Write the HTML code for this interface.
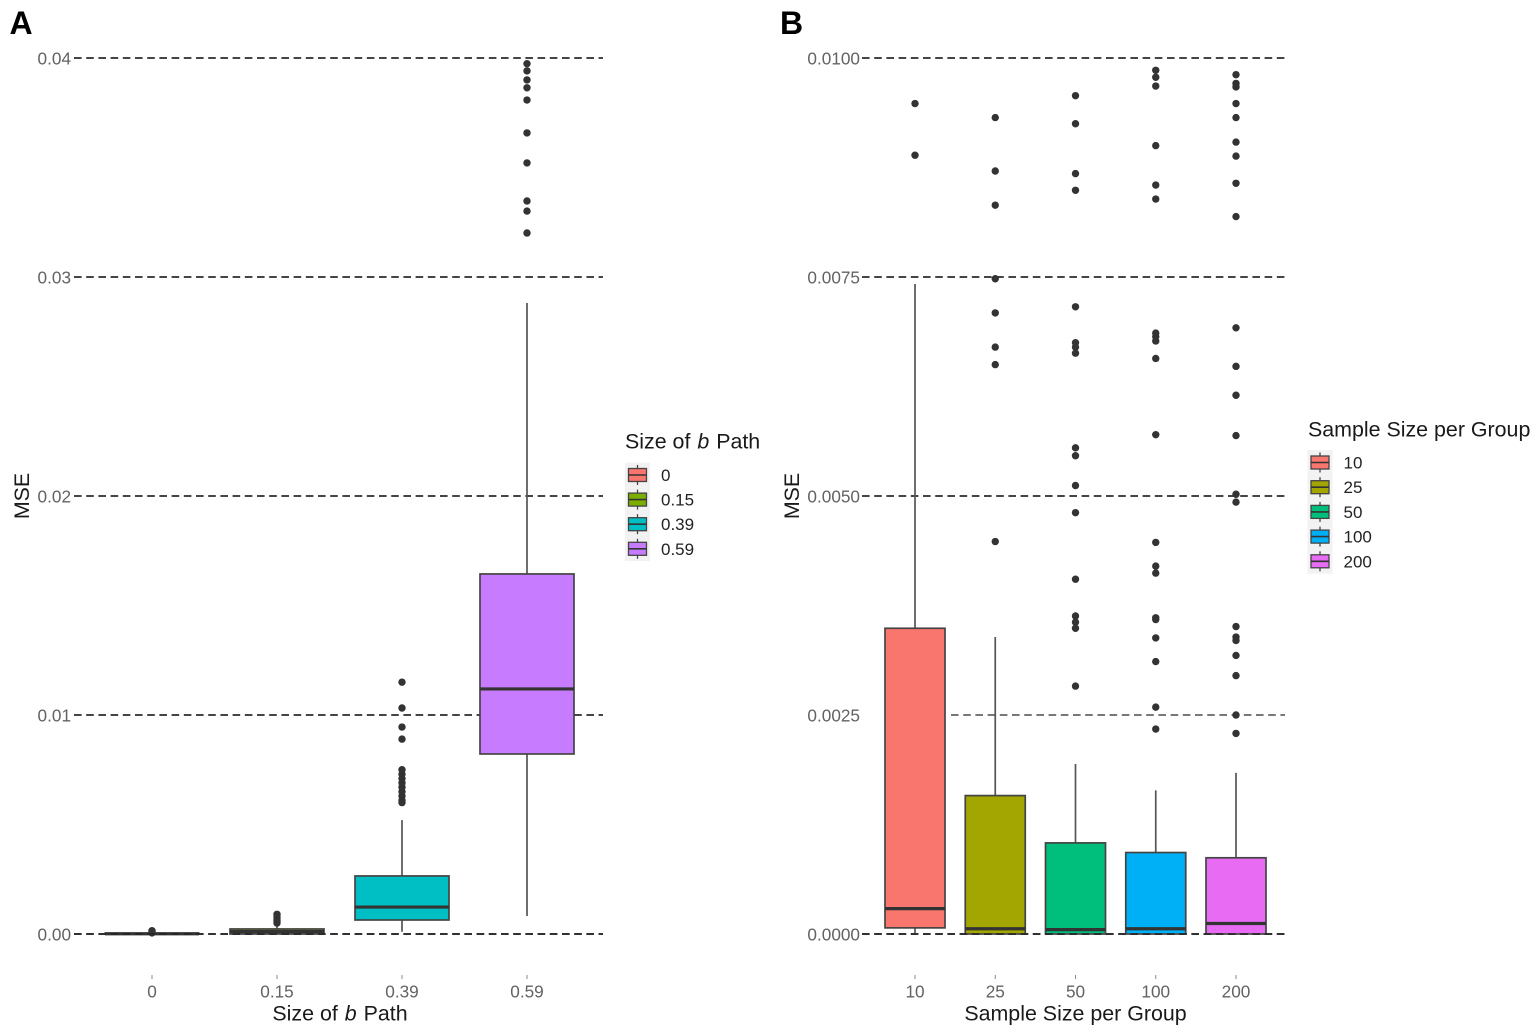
<!DOCTYPE html>
<html lang="en">
<head>
<meta charset="utf-8">
<title>MSE by size of b path and sample size per group</title>
<style>
html,body{margin:0;padding:0;background:#fff;}
body{width:1536px;height:1036px;overflow:hidden;}
svg{display:block;font-family:"Liberation Sans",sans-serif;}
</style>
</head>
<body>
<svg id="chart" xmlns="http://www.w3.org/2000/svg" width="1536" height="1036" viewBox="0 0 1536 1036"></svg>
<script>
// Panel A data
const aCategories = ['0', '0.15', '0.39', '0.59'];
const aColors = ['#F8766D', '#7CAE00', '#00BFC4', '#C77CFF'];
const aYTicks = [0, 0.01, 0.02, 0.03, 0.04];
const aYTickLabels = ['0.00', '0.01', '0.02', '0.03', '0.04'];
const aLow = [0, 0, 0.0001, 0.00082];
const aQ1 = [0, 0, 0.00064, 0.00822];
const aMedian = [0.00001, 0.00011, 0.00123, 0.01119];
const aQ3 = [0.00003, 0.00023, 0.00265, 0.01644];
const aHigh = [0.00003, 0.0004, 0.0052, 0.02881];
const aOutliers = [
  [0.00005, 0.0001, 0.00015],
  [0.0005, 0.0006, 0.0007, 0.0008, 0.0009],
  [0.006, 0.0061, 0.0063, 0.0065, 0.0067, 0.0069, 0.0071, 0.0073, 0.0075, 0.0089, 0.00945, 0.01032, 0.0115],
  [0.03201, 0.03301, 0.03347, 0.03521, 0.03658, 0.03808, 0.03864, 0.039, 0.03941, 0.03974]
];

// Panel B data
const bCategories = ['10', '25', '50', '100', '200'];
const bColors = ['#F8766D', '#A3A500', '#00BF7D', '#00B0F6', '#E76BF3'];
const bYTicks = [0, 0.0025, 0.005, 0.0075, 0.01];
const bYTickLabels = ['0.0000', '0.0025', '0.0050', '0.0075', '0.0100'];
const bLow = [0, 0, 0, 0, 0];
const bQ1 = [0.00007, 0, 0, 0, 0];
const bMedian = [0.00029, 0.00006, 0.00005, 0.00006, 0.00012];
const bQ3 = [0.00349, 0.00158, 0.00104, 0.00093, 0.00087];
const bHigh = [0.00742, 0.00339, 0.00194, 0.00164, 0.00184];
const bOutliers = [
  [0.00889, 0.00948],
  [0.00448, 0.0065, 0.0067, 0.00709, 0.00748, 0.00832, 0.00871, 0.00932],
  [0.00283, 0.00349, 0.00356, 0.00363, 0.00405, 0.00481, 0.00512, 0.00546, 0.00555, 0.00663, 0.0067, 0.00675, 0.00716, 0.00849, 0.00868, 0.00925, 0.00957],
  [0.00234, 0.00259, 0.00311, 0.00338, 0.00359, 0.00361, 0.00412, 0.0042, 0.00447, 0.0057, 0.00657, 0.00677, 0.00682, 0.00686, 0.00839, 0.00855, 0.009, 0.00968, 0.00978, 0.00986],
  [0.00229, 0.0025, 0.00295, 0.00318, 0.00335, 0.00339, 0.00351, 0.00493, 0.00502, 0.00569, 0.00615, 0.00648, 0.00692, 0.00819, 0.00857, 0.00888, 0.00904, 0.00932, 0.00948, 0.00967, 0.00971, 0.00981]
];

const svg = document.getElementById('chart');
const NS = 'http://www.w3.org/2000/svg';

function make(tag, attrs, parent, text) {
  const el = document.createElementNS(NS, tag);
  for (const k in attrs) el.setAttribute(k, attrs[k]);
  if (text !== undefined) el.textContent = text;
  parent.appendChild(el);
  return el;
}

function label(parent, name, x, y, str, size, fill, anchor, weight) {
  const el = make('text', {x: x, y: y, 'font-size': size, fill: fill, 'text-anchor': anchor || 'start', 'font-weight': weight || 'normal', 'dominant-baseline': 'central'}, parent, str);
  
  
  return el;
}

function pathTitle(parent, name, x, y, anchor) {
  const el = label(parent, name, x, y, 'Size of ', 21.4, '#1a1a1a', anchor);
  make('tspan', {'font-style': 'italic', dx: 1}, el, 'b');
  make('tspan', {dx: 1}, el, ' Path');
  return el;
}

function drawPanel(cfg) {
  const g = make('g', {}, svg);
  
  
  const y = v => cfg.y0 - v * cfg.yPerUnit;
  const x = i => cfg.x0 + i * cfg.xStep;

  // horizontal reference lines and y tick labels
  cfg.yTicks.forEach((t, i) => {
    const startX = t === cfg.fadedTick ? cfg.fadedStart : cfg.gridLeft;
    const line = make('line', {x1: startX, x2: cfg.gridRight, y1: y(t), y2: y(t), stroke: t === cfg.fadedTick ? '#666' : '#2b2b2b', 'stroke-width': 1.7, 'stroke-dasharray': '7.6 4.6'}, g);
    
    
    label(g, 'y-tick-label', cfg.yLabelRight, y(t) + 0.3, cfg.yTickLabels[i], 17.2, '#636363', 'end');
  });

  // boxes
  cfg.categories.forEach((c, i) => {
    const bx = x(i);
    const box = make('g', {}, g);
    
    
    const whisker = make('line', {x1: bx, x2: bx, y1: y(cfg.high[i]), y2: y(cfg.low[i]), stroke: '#555', 'stroke-width': 1.7}, box);
    
    
    const rect = make('rect', {x: bx - cfg.boxW / 2, width: cfg.boxW, y: y(cfg.q3[i]), height: Math.max(y(cfg.q1[i]) - y(cfg.q3[i]), 0.5), fill: cfg.colors[i], stroke: '#444', 'stroke-width': 1.7}, box);
    
    
    const med = make('line', {x1: bx - cfg.boxW / 2, x2: bx + cfg.boxW / 2, y1: y(cfg.median[i]), y2: y(cfg.median[i]), stroke: '#333', 'stroke-width': 3.2}, box);
    
    
    cfg.outliers[i].forEach(v => {
      const dot = make('circle', {cx: bx, cy: y(v), r: 3.7, fill: '#333'}, box);
      
      
    });

    const tick = make('line', {x1: bx, x2: bx, y1: 975, y2: 979, stroke: '#888', 'stroke-width': 1}, g);
    
    
    label(g, 'x-tick-label', bx, 991.5, c, 17.2, '#636363', 'middle');
  });

  // zero line sits above the box edges
  const zero = make('line', {x1: cfg.gridLeft, x2: cfg.gridRight, y1: y(0), y2: y(0), stroke: '#222', 'stroke-width': 1.6, 'stroke-dasharray': '7.6 4.6'}, g);
  
  

  // y axis title
  const yt = label(g, 'y-axis-title', 0, 0, 'MSE', 21.4, '#1a1a1a', 'middle');
  yt.setAttribute('transform', 'translate(' + cfg.yTitleX + ' 496) rotate(-90)');

  // legend
  const lg = make('g', {}, g);
  
  
  cfg.categories.forEach((c, i) => {
    const cy = cfg.legendY + i * cfg.legendStep;
    const kx = cfg.legendX;
    const key = make('g', {}, lg);
    
    
    make('rect', {x: kx, y: cy - cfg.legendStep / 2, width: 25, height: cfg.legendStep, fill: '#f2f2f2'}, key);
    make('line', {x1: kx + 12.5, x2: kx + 12.5, y1: cy - 10, y2: cy + 10, stroke: '#444', 'stroke-width': 1.3}, key);
    make('rect', {x: kx + 3.5, y: cy - 6.5, width: 18, height: 13, fill: cfg.colors[i], stroke: '#444', 'stroke-width': 1.3}, key);
    make('line', {x1: kx + 3.5, x2: kx + 21.5, y1: cy, y2: cy, stroke: '#333', 'stroke-width': 1.6}, key);
    label(lg, 'legend-label', kx + cfg.legendTextDx, cy + 0.5, c, 17, '#222');
  });
}

drawPanel({
  name: 'panel-a', categories: aCategories, colors: aColors, yTicks: aYTicks, yTickLabels: aYTickLabels,
  low: aLow, q1: aQ1, median: aMedian, q3: aQ3, high: aHigh, outliers: aOutliers,
  y0: 934, yPerUnit: 21900, x0: 152, xStep: 125, boxW: 94,
  gridLeft: 74, gridRight: 603, yLabelRight: 71, yTitleX: 22,
  legendX: 625, legendY: 475, legendStep: 24.6, legendTextDx: 36
});
drawPanel({
  name: 'panel-b', categories: bCategories, colors: bColors, yTicks: bYTicks, yTickLabels: bYTickLabels,
  low: bLow, q1: bQ1, median: bMedian, q3: bQ3, high: bHigh, outliers: bOutliers,
  y0: 934, yPerUnit: 87600, x0: 915, xStep: 80.25, boxW: 60,
  gridLeft: 862, gridRight: 1285, fadedTick: 0.0025, fadedStart: 951, yLabelRight: 860, yTitleX: 792,
  legendX: 1307.5, legendY: 462.5, legendStep: 24.7, legendTextDx: 36
});

label(svg, 'panel-a-label', 9.5, 23, 'A', 32, '#000', 'start', 'bold');
label(svg, 'panel-b-label', 780, 23, 'B', 32, '#000', 'start', 'bold');
pathTitle(svg, 'x-axis-title-a', 340, 1013.5, 'middle');
label(svg, 'x-axis-title-b', 1075.5, 1013.5, 'Sample Size per Group', 21.4, '#1a1a1a', 'middle');
pathTitle(svg, 'legend-title-a', 625, 441.5, 'start');
label(svg, 'legend-title-b', 1308, 429.5, 'Sample Size per Group', 21.4, '#1a1a1a', 'start');
</script>
</body>
</html>
